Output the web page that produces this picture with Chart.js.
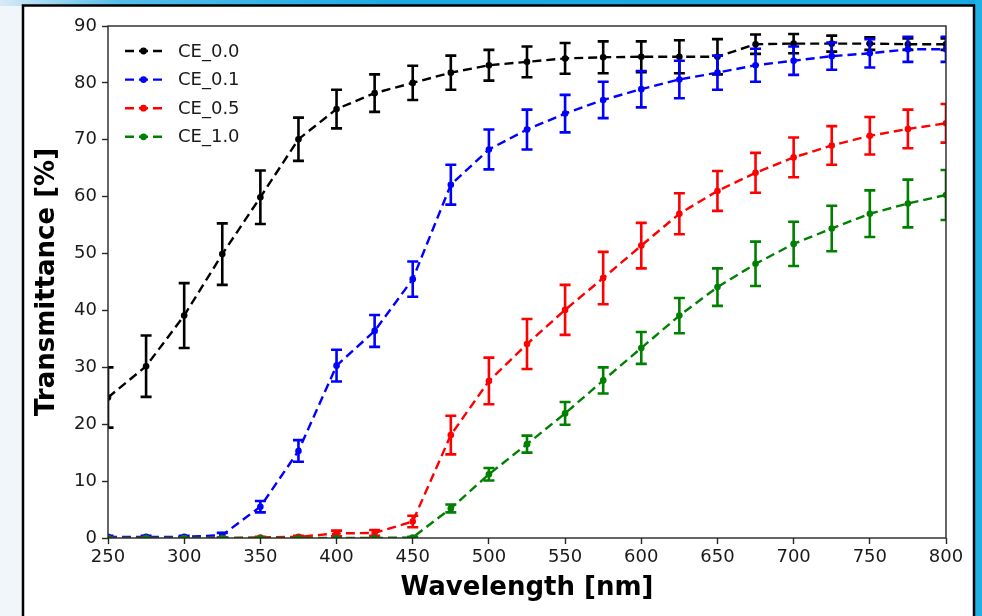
<!DOCTYPE html>
<html>
<head>
<meta charset="utf-8">
<script src="https://cdn.jsdelivr.net/npm/chart.js@4.4.1/dist/chart.umd.min.js"></script>
<style>
  html, body { margin: 0; padding: 0; background: #ffffff; overflow: hidden; }
  canvas { display: block; }
</style>
</head>
<body>
<canvas id="chart" width="982" height="616"></canvas>
<script>
// Wavelength grid (nm)
const wavelengths = [250, 275, 300, 325, 350, 375, 400, 425, 450, 475, 500, 525,
                     550, 575, 600, 625, 650, 675, 700, 725, 750, 775, 800];

// Transmittance (%) for each sample, with the standard deviation of each point
const ce00 = [24.7, 30.2, 39.1, 49.9, 59.9, 70.1, 75.4, 78.2, 80.0, 81.8, 83.1, 83.7,
              84.3, 84.5, 84.6, 84.6, 84.6, 86.8, 86.9, 86.9, 86.9, 86.8, 86.8];
const err00 = [5.3, 5.4, 5.7, 5.4, 4.7, 3.8, 3.4, 3.3, 3.0, 3.0, 2.7, 2.7,
               2.7, 2.8, 2.7, 2.9, 3.1, 1.7, 1.7, 1.4, 1.1, 1.0, 1.0];

const ce01 = [0.2, 0.2, 0.2, 0.5, 5.5, 15.3, 30.3, 36.4, 45.5, 62.1, 68.3, 71.8,
              74.6, 77.0, 78.9, 80.6, 81.8, 83.1, 83.9, 84.7, 85.2, 85.9, 85.9];
const err01 = [0.2, 0.2, 0.2, 0.4, 1.0, 1.9, 2.8, 2.8, 3.1, 3.5, 3.5, 3.5,
               3.3, 3.2, 3.2, 3.3, 3.0, 2.9, 2.5, 2.4, 2.5, 2.2, 2.2];

const ce05 = [0.0, 0.0, 0.0, 0.0, 0.1, 0.2, 0.8, 0.9, 2.9, 18.1, 27.6, 34.1,
              40.1, 45.7, 51.4, 57.0, 61.0, 64.2, 66.9, 69.0, 70.7, 71.9, 72.9];
const err05 = [0.0, 0.0, 0.0, 0.0, 0.1, 0.2, 0.5, 0.5, 1.0, 3.4, 4.1, 4.4,
               4.4, 4.6, 4.0, 3.6, 3.5, 3.5, 3.5, 3.4, 3.3, 3.4, 3.4];

const ce10 = [0.0, 0.0, 0.0, 0.0, 0.0, 0.0, 0.0, 0.0, 0.1, 5.2, 11.2, 16.5,
              21.9, 27.7, 33.4, 39.1, 44.1, 48.2, 51.7, 54.4, 57.0, 58.8, 60.3];
const err10 = [0.0, 0.0, 0.0, 0.0, 0.0, 0.0, 0.0, 0.0, 0.1, 0.7, 1.1, 1.5,
               2.0, 2.3, 2.8, 3.1, 3.3, 3.9, 3.9, 4.0, 4.1, 4.2, 4.4];

const seriesNames  = ['CE_0.0', 'CE_0.1', 'CE_0.5', 'CE_1.0'];
const seriesValues = [ce00, ce01, ce05, ce10];
const seriesErrors = [err00, err01, err05, err10];
const seriesColors = ['#000000', '#0000ff', '#ff0000', '#008000'];

const xTicks = [250, 300, 350, 400, 450, 500, 550, 600, 650, 700, 750, 800];
const yTicks = [0, 10, 20, 30, 40, 50, 60, 70, 80, 90];

const FONT = 'DejaVu Sans';
const DASH = [9, 5];

// Slide backdrop and white panel behind the plot
const panelPlugin = {
  id: 'panel',
  beforeDraw(chart) {
    const ctx = chart.ctx;
    const W = chart.width, H = chart.height;
    ctx.save();
    const g = ctx.createLinearGradient(0, 0, W, 0);
    g.addColorStop(0, '#d7ebf7');
    g.addColorStop(0.12, '#55bdea');
    g.addColorStop(0.4, '#1ea9e2');
    g.addColorStop(1, '#19a8e0');
    ctx.fillStyle = g;
    ctx.fillRect(0, 0, W, 6);
    ctx.fillStyle = '#f1f6fa';
    ctx.fillRect(0, 6, 23, H);
    ctx.fillStyle = '#1fb0e6';
    ctx.fillRect(975, 0, W - 975, H);
    ctx.fillStyle = '#ffffff';
    ctx.fillRect(23, 5, 951, H);
    ctx.strokeStyle = '#000000';
    ctx.lineWidth = 2.5;
    ctx.strokeRect(23, 5.5, 951, H + 10);
    ctx.restore();
  }
};

// Vertical error bars with caps, drawn right after each series
const errorBarPlugin = {
  id: 'errorBars',
  afterDatasetDraw(chart, args) {
    const i = args.index;
    const meta = args.meta;
    const ys = chart.scales.y;
    const area = chart.chartArea;
    const ctx = chart.ctx;
    const vals = seriesValues[i], errs = seriesErrors[i];
    ctx.save();
    ctx.beginPath();
    ctx.rect(area.left, area.top, area.right - area.left, area.bottom - area.top);
    ctx.clip();
    ctx.strokeStyle = seriesColors[i];
    ctx.lineWidth = 2.6;
    ctx.setLineDash([]);
    const cap = 5.5;
    meta.data.forEach((pt, j) => {
      const x = pt.x;
      const yHi = ys.getPixelForValue(vals[j] + errs[j]);
      const yLo = ys.getPixelForValue(vals[j] - errs[j]);
      ctx.beginPath();
      ctx.moveTo(x, yHi); ctx.lineTo(x, yLo);
      ctx.moveTo(x - cap, yHi); ctx.lineTo(x + cap, yHi);
      ctx.moveTo(x - cap, yLo); ctx.lineTo(x + cap, yLo);
      ctx.stroke();
    });
    ctx.restore();
  }
};

// Axes frame and the legend box in the upper left of the plot
const frameLegendPlugin = {
  id: 'frameLegend',
  afterDraw(chart) {
    const ctx = chart.ctx;
    const a = chart.chartArea;
    ctx.save();
    ctx.strokeStyle = '#262626';
    ctx.lineWidth = 1.4;
    ctx.setLineDash([]);
    ctx.strokeRect(a.left, a.top, a.right - a.left, a.bottom - a.top);

    chart.data.datasets.forEach((ds, i) => {
      const y = 51 + i * 28.6;
      ctx.strokeStyle = seriesColors[i];
      ctx.lineWidth = 2.4;
      ctx.setLineDash(DASH);
      ctx.beginPath();
      ctx.moveTo(125, y); ctx.lineTo(162, y);
      ctx.stroke();
      ctx.setLineDash([]);
      ctx.fillStyle = seriesColors[i];
      ctx.beginPath();
      ctx.arc(143.5, y, 3.4, 0, Math.PI * 2);
      ctx.fill();
      ctx.fillStyle = '#1a1a1a';
      ctx.font = '18px "' + FONT + '"';
      ctx.textBaseline = 'middle';
      ctx.textAlign = 'left';
      ctx.fillText(ds.label, 178, y + 1);
    });
    ctx.restore();
  }
};

const datasets = seriesValues.map((vals, i) => ({
  label: seriesNames[i],
  data: wavelengths.map((w, j) => ({ x: w, y: vals[j] })),
  borderColor: seriesColors[i],
  backgroundColor: seriesColors[i],
  pointBackgroundColor: seriesColors[i],
  pointBorderWidth: 0,
  pointRadius: 3.3,
  borderWidth: 2.4,
  borderDash: DASH,
  tension: 0,
  fill: false,
  clip: 0,
  order: seriesNames.length - i
}));

const tickFont = { family: FONT, size: 18 };
const titleFont = { family: FONT, size: 26, weight: 'bold' };

new Chart(document.getElementById('chart'), {
  type: 'line',
  data: { datasets },
  options: {
    responsive: false,
    animation: false,
    devicePixelRatio: 1,
    layout: { padding: { left: 0, top: 26, right: 36, bottom: 0 } },
    plugins: { legend: { display: false }, tooltip: { enabled: false } },
    scales: {
      x: {
        type: 'linear',
        min: 250, max: 800,
        afterBuildTicks: s => { s.ticks = xTicks.map(v => ({ value: v })); },
        afterFit: s => { s.height = 78; },
        ticks: { font: tickFont, color: '#1a1a1a', padding: 3, maxRotation: 0, autoSkip: false },
        grid: { drawOnChartArea: false, drawTicks: true, tickLength: 6, tickColor: '#262626', tickWidth: 1.4 },
        border: { display: false },
        title: { display: true, text: 'Wavelength [nm]', font: titleFont, color: '#000000', padding: { top: 0, bottom: 12 } }
      },
      y: {
        type: 'linear',
        min: 0, max: 90,
        afterBuildTicks: s => { s.ticks = yTicks.map(v => ({ value: v })); },
        afterFit: s => { s.width = 108; },
        ticks: { font: tickFont, color: '#1a1a1a', padding: 5, autoSkip: false },
        grid: { drawOnChartArea: false, drawTicks: true, tickLength: 6, tickColor: '#262626', tickWidth: 1.4 },
        border: { display: false },
        title: { display: true, text: 'Transmittance [%]', font: titleFont, color: '#000000', padding: { top: 32, bottom: 0 } }
      }
    }
  },
  plugins: [panelPlugin, errorBarPlugin, frameLegendPlugin]
});
</script>
</body>
</html>
